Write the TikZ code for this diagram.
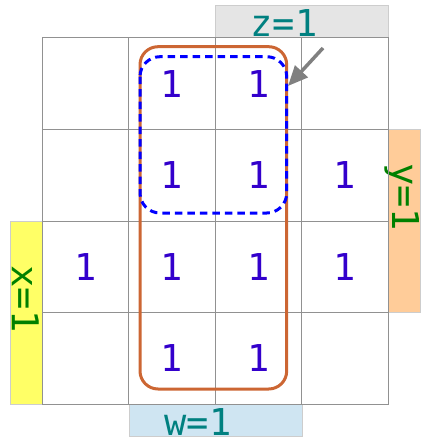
\documentclass[tikz,border=0pt]{standalone}
\usepackage{fontspec}
\setmonofont{DejaVu Sans Mono}
\usepackage{tikz}
\usetikzlibrary{positioning, arrows.meta}
\definecolor{gridline}{RGB}{145,145,145}
\definecolor{boxline}{RGB}{205,205,205}
\definecolor{onecol}{RGB}{51,0,204}
\definecolor{tealtxt}{RGB}{0,128,128}
\definecolor{greentxt}{RGB}{0,128,0}
\definecolor{zbg}{RGB}{229,229,229}
\definecolor{ybg}{RGB}{255,204,153}
\definecolor{xbg}{RGB}{255,255,102}
\definecolor{wbg}{RGB}{207,229,242}
\definecolor{loopcol}{RGB}{204,102,51}
\tikzset{
  cell/.style={rectangle, draw=gridline, line width=1pt, minimum width=86.5pt, minimum height=91.5pt, inner sep=0pt, outer sep=0pt},
  one/.style={text=onecol, font=\ttfamily\fontsize{37}{40}\selectfont, inner sep=0pt},
  hbar/.style={rectangle, draw=boxline, line width=1pt, minimum width=173pt, minimum height=32pt, inner sep=0pt},
  vbar/.style={rectangle, draw=boxline, line width=1pt, minimum width=32pt, minimum height=183pt, inner sep=0pt},
  vartxt/.style={font=\ttfamily\fontsize{37}{40}\selectfont, anchor=base, inner sep=0pt},
  bigloop/.style={draw=loopcol, line width=3pt, rounded corners=18pt},
  smallloop/.style={draw=blue, line width=3pt, dash pattern=on 7.5pt off 5pt, rounded corners=20pt},
  pointer/.style={draw=gray, line width=3.5pt, -{Triangle[length=20pt, width=17pt]}},
}
\begin{document}
\begin{tikzpicture}[x=1pt, y=-1pt]
\useasboundingbox (0,0) rectangle (423,441);
% variable bars
\node[hbar, fill=zbg] (zbar) at (301.5,22) {};
\node[vbar, fill=ybg] (ybar) at (404,220.5) {};
\node[vbar, fill=xbg] (xbar) at (26,312.5) {};
\node[hbar, fill=wbg] (wbar) at (215.5,420) {};
\node[vartxt, text=tealtxt] (zlab) at (284,37) {z=1};
\node[vartxt, text=greentxt, rotate=-90] (ylab) at (392,197) {y=1};
\node[vartxt, text=greentxt, rotate=-90] (xlab) at (12,299) {x=1};
\node[vartxt, text=tealtxt] (wlab) at (198,435) {w=1};
% map cells
\foreach \r in {1,...,4}
  \foreach \c in {1,...,4}
    \node[cell] (c\r\c) at ({42+86.5*(\c-0.5)},{38+91.5*(\r-0.5)}) {};
\foreach \r/\c in {1/2,1/3,2/2,2/3,2/4,3/1,3/2,3/3,3/4,4/2,4/3}
  \node[one] (o\r\c) at (c\r\c) {1};
% groupings
\coordinate (bigNW) at (140,46.7);
\coordinate (bigSE) at (286.7,389);
\coordinate (smallNW) at (140,56.7);
\coordinate (smallSE) at (286.7,213);
\draw[bigloop] (bigNW) rectangle (bigSE);
\draw[smallloop] (smallNW) rectangle (smallSE);
\coordinate (ptail) at (323,48);
\coordinate (ptip) at (288,86);
\draw[pointer] (ptail) -- (ptip);
\end{tikzpicture}
\end{document}
